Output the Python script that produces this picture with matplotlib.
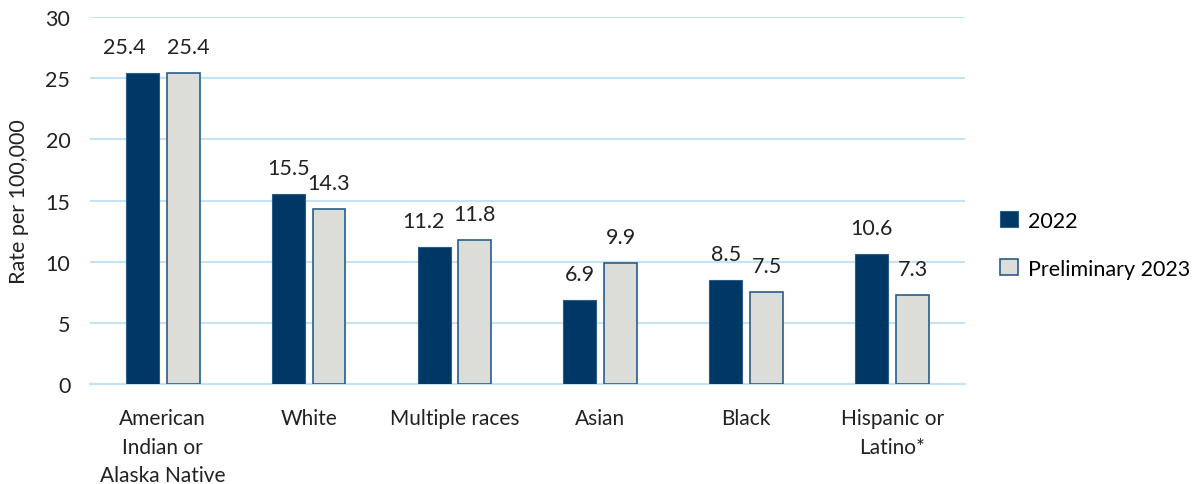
import numpy as np
import matplotlib.pyplot as plt

plt.rcParams['font.family'] = ['Lato', 'DejaVu Sans']

categories = ['American\nIndian or\nAlaska Native', 'White', 'Multiple races',
              'Asian', 'Black', 'Hispanic or\nLatino*']
rate_2022 = [25.4, 15.5, 11.2, 6.9, 8.5, 10.6]
rate_2023 = [25.4, 14.3, 11.8, 9.9, 7.5, 7.3]
series_names = ['2022', 'Preliminary 2023']

dark = '#003865'
light = '#dcdcd8'
grid = '#c6e2f7'
fs = 15.5

fig = plt.figure(figsize=(11.96, 4.85), dpi=100)
ax = fig.add_axes([0.075, 0.206, 0.732, 0.757])

x = np.arange(len(categories))
w = 0.226
off = 0.14
b1 = ax.bar(x - off, rate_2022, w, color=dark, edgecolor='#2a5d8a', linewidth=0.8, label=series_names[0], zorder=3)
b2 = ax.bar(x + off, rate_2023, w, color=light, edgecolor='#2a5d8a', linewidth=1.2, label=series_names[1], zorder=3)

# excel pushes crowded labels sideways a bit
shift_2022 = [-0.12, 0, -0.07, 0, 0, 0]
shift_2023 = [0.035, 0, 0, 0, 0, 0]
for bars, shifts in ((b1, shift_2022), (b2, shift_2023)):
    for r, s in zip(bars, shifts):
        ax.text(r.get_x() + r.get_width() / 2 + s, r.get_height() + 1.3,
                f'{r.get_height():.1f}', ha='center', va='bottom', fontsize=fs, color='#222222')

ax.set_xlim(-0.5, len(categories) - 0.5)
ax.set_ylim(0, 30)
ax.set_yticks(range(0, 31, 5))
ax.yaxis.grid(True, color=grid, linewidth=1.5, zorder=0)
ax.set_axisbelow(True)
for s in ['top', 'right', 'left']:
    ax.spines[s].set_visible(False)
ax.spines['bottom'].set_color(grid)
ax.spines['bottom'].set_linewidth(1.5)
ax.tick_params(axis='y', length=0, labelsize=fs, colors='#222222', pad=14)
ax.tick_params(axis='x', length=0, labelsize=15, colors='#222222', pad=17)
ax.set_xticks(x)
ax.set_xticklabels(categories, linespacing=1.55, va='top')
ax.set_ylabel('Rate per 100,000', fontsize=fs, color='#222222', labelpad=12)

ax.legend(loc='center left', bbox_to_anchor=(1.018, 0.38), frameon=False, fontsize=fs,
          handlelength=0.8, handleheight=0.8, handletextpad=0.5, labelspacing=1.3)

fig.savefig('out.png', dpi=100)
